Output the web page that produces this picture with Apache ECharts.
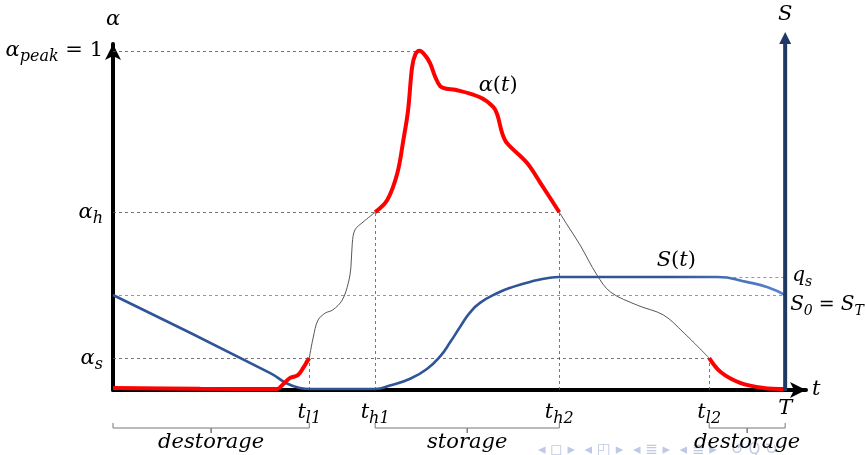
<!DOCTYPE html>
<html>
<head>
<meta charset="utf-8">
<script src="https://cdn.jsdelivr.net/npm/echarts@6/dist/echarts.min.js"></script>
<style>html,body{margin:0;padding:0;background:#fff}#main{width:866px;height:455px}</style>
</head>
<body>
<div id="main"></div>
<script>
// key instants (T = 1) and levels (alpha_peak = 1)
var tL1 = 0.292, tH1 = 0.390, tH2 = 0.664, tL2 = 0.887, T = 1.0;
var alphaS = 0.094, alphaH = 0.524, alphaPeak = 1, S0 = 0.28, qS = 0.333;

var xTicks = [tL1, tH1, tH2, tL2, T];
var xTickNames = ['{i|t}{s|l1}', '{i|t}{s|h1}', '{i|t}{s|h2}', '{i|t}{s|l2}', '{i|T}'];
var yTicks = [alphaS, alphaH, alphaPeak];
var yTickNames = ['{i|α}{s|s}', '{i|α}{s|h}', '{i|α}{s|peak}{r| = 1}'];

// alpha(t), split where it crosses alpha_s / alpha_h
var alphaLow1 = [[0,0.006],[0.13,0.004],[0.244,0.003],[0.252,0.015],[0.263,0.035],[0.275,0.044],[0.283,0.065],[0.289,0.085],[0.292,0.094]];
var alphaRise = [[0.292,0.094],[0.298,0.156],[0.305,0.206],[0.316,0.227],[0.327,0.236],[0.341,0.265],[0.350,0.315],[0.354,0.363],[0.356,0.433],[0.360,0.472],[0.372,0.495],[0.390,0.524]];
var alphaHigh = [[0.390,0.524],[0.408,0.560],[0.423,0.639],[0.432,0.737],[0.439,0.825],[0.445,0.952],[0.450,0.990],[0.456,1.0],[0.465,0.985],[0.472,0.962],[0.479,0.925],[0.487,0.895],[0.496,0.888],[0.509,0.885],[0.546,0.863],[0.566,0.834],[0.572,0.810],[0.579,0.757],[0.586,0.728],[0.616,0.669],[0.636,0.610],[0.664,0.524]];
var alphaFall = [[0.664,0.524],[0.676,0.486],[0.695,0.427],[0.720,0.339],[0.740,0.289],[0.780,0.250],[0.819,0.221],[0.848,0.171],[0.887,0.094]];
var alphaLow2 = [[0.887,0.094],[0.904,0.053],[0.933,0.021],[0.968,0.006],[1.0,0.003]];

// storage level S(t)
var sCurve = [[0,0.28],[0.234,0.05],[0.258,0.02],[0.278,0.006],[0.293,0.003],[0.390,0.003],[0.412,0.013],[0.442,0.033],[0.467,0.062],[0.487,0.100],[0.502,0.142],[0.517,0.188],[0.531,0.228],[0.546,0.257],[0.572,0.286],[0.595,0.304],[0.625,0.321],[0.650,0.331],[0.664,0.333],[0.899,0.333],[0.944,0.318],[0.974,0.303],[1.0,0.28]];

var font = 'DejaVu Serif';
var rich = {
  i: {fontFamily: font, fontStyle: 'italic', fontSize: 21, color: '#000'},
  s: {fontFamily: font, fontStyle: 'italic', fontSize: 16, color: '#000', padding: [13, 0, 0, 0]},
  r: {fontFamily: font, fontSize: 21, color: '#000'},
  // slightly tighter set for the right-hand labels
  ri: {fontFamily: font, fontStyle: 'italic', fontSize: 20, color: '#000'},
  rs: {fontFamily: font, fontStyle: 'italic', fontSize: 14, color: '#000', padding: [12, 0, 0, 0]},
  rr: {fontFamily: font, fontSize: 19, color: '#000'}
};

var myChart = echarts.init(document.getElementById('main'));

function curve(name, data, color, width, sm) {
  return {
    name: name, type: 'line', data: data, smooth: sm || 0.35, symbol: 'none',
    lineStyle: {color: color, width: width}, z: width > 2 ? 5 : 4
  };
}
function seg(a, b, color) {
  return [{coord: a, lineStyle: {color: color || '#555', type: [3, 3], width: 0.8}}, {coord: b}];
}

var sColor = new echarts.graphic.LinearGradient(0, 0, 1, 0, [
  {offset: 0, color: '#2f5597'}, {offset: 0.82, color: '#2f5597'}, {offset: 1, color: '#5a86cf'}
]);

option = {
  animation: false,
  grid: {left: 113, right: 60, top: 44, bottom: 65, outerBoundsMode: 'none'},
  xAxis: {
    type: 'value', min: 0, max: 1.031,
    name: 't', nameGap: 6, nameTextStyle: {fontFamily: font, fontStyle: 'italic', fontSize: 21, color: '#000'},
    axisLine: {show: true, lineStyle: {color: '#000', width: 4}, symbol: ['none', 'arrow'], symbolSize: [12, 16]},
    axisTick: {show: false},
    splitLine: {show: false},
    axisLabel: {
      customValues: xTicks, margin: 8,
      formatter: function (v) { return xTickNames[xTicks.indexOf(v)]; },
      rich: rich
    }
  },
  yAxis: {
    type: 'value', min: 0, max: 1.02,
    name: 'α', nameGap: 14, nameTextStyle: {fontFamily: font, fontStyle: 'italic', fontSize: 21, color: '#000'},
    axisLine: {show: true, lineStyle: {color: '#000', width: 4}, symbol: ['none', 'arrow'], symbolSize: [12, 16]},
    axisTick: {show: false},
    splitLine: {show: false},
    axisLabel: {
      customValues: yTicks, margin: 10,
      formatter: function (v) { return yTickNames[yTicks.indexOf(v)]; },
      rich: rich
    }
  },
  series: [
    {
      name: 'guides', type: 'line', data: [], silent: true,
      markLine: {
        silent: true, symbol: 'none', label: {show: false},
        data: [
          seg([0, alphaPeak], [0.456, alphaPeak]),
          seg([0, alphaH], [tH2, alphaH]),
          seg([0, alphaS], [tL2, alphaS]),
          seg([0, S0], [T, S0], '#6b7fa8'),
          seg([tH2, qS], [T, qS], '#6b7fa8'),
          seg([tL1, 0], [tL1, alphaS]),
          seg([tH1, 0], [tH1, alphaH]),
          seg([tH2, 0], [tH2, alphaH]),
          seg([tL2, 0], [tL2, alphaS])
        ]
      }
    },
    curve('S', sCurve, sColor, 2.6, 0.5),
    curve('a1', alphaLow1, '#ff0000', 4),
    curve('a2', alphaRise, '#444', 0.9),
    curve('a3', alphaHigh, '#ff0000', 4),
    curve('a4', alphaFall, '#444', 0.9),
    curve('a5', alphaLow2, '#ff0000', 4)
  ]
};

myChart.setOption(option);

// annotations placed from data coordinates
function px(x, y) { return myChart.convertToPixel({gridIndex: 0}, [x, y]); }
function txt(p, text, align, dy) {
  return {type: 'text', x: p[0], y: p[1] + (dy || 0), z: 10,
    style: {text: text, rich: rich, align: align || 'center', verticalAlign: 'middle'}};
}
function brace(x0, x1, yb) {
  var a = px(x0, 0)[0], b = px(x1, 0)[0], m = (a + b) / 2;
  return {type: 'polyline', z: 10, shape: {points: [[a, yb - 5], [a, yb], [m, yb], [m, yb + 5], [m, yb], [b, yb], [b, yb - 5]]},
    style: {stroke: '#777', lineWidth: 1, fill: null}};
}
var base = px(T, 0), axTop = 42, yb = 428;
var g = [
  // S axis at t = T
  {type: 'line', z: 6, shape: {x1: base[0], y1: base[1] + 1, x2: base[0], y2: axTop}, style: {stroke: '#203864', lineWidth: 4}},
  {type: 'polygon', z: 6, shape: {points: [[base[0] - 6, axTop + 2], [base[0], 32], [base[0] + 6, axTop + 2]]}, style: {fill: '#203864'}},
  txt([base[0], 15], '{i|S}'),
  txt(px(0.573, 0.897), '{i|α}{r|(}{i|t}{r|)}'),
  txt(px(0.838, 0.383), '{i|S}{r|(}{i|t}{r|)}'),
  txt([base[0] + 7, px(T, qS)[1] - 1], '{ri|q}{rs|s}', 'left'),
  txt([base[0] + 5, px(T, S0)[1] + 10], '{ri|S}{rs|0}{rr| = }{ri|S}{rs|T}', 'left'),
  brace(0, tL1, yb), brace(tH1, tH2, yb), brace(tL2, T, yb),
  txt([px(tL1 / 2, 0)[0], 443], '{i|destorage}'),
  txt([px((tH1 + tH2) / 2, 0)[0], 443], '{i|storage}'),
  txt([px((tL2 + T) / 2, 0)[0], 443], '{i|destorage}'),
  {type: 'text', x: 538, y: 450, z: 1,
    style: {text: '◂ ◻ ▸  ◂ ◰ ▸  ◂ ≣ ▸  ◂ ≣ ▸   ↺ Q ↻', fill: '#c0c9e4', fontSize: 15, fontFamily: 'DejaVu Sans', verticalAlign: 'middle'}}
];
myChart.setOption({graphic: g});
</script>
</body>
</html>
